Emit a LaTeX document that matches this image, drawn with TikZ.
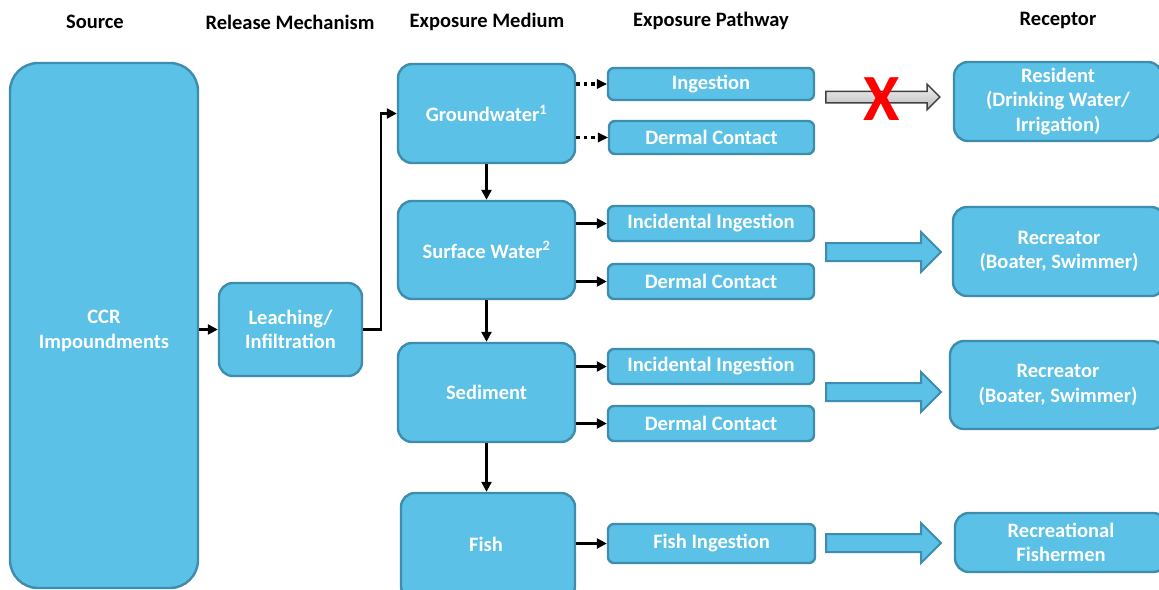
\documentclass[tikz,border=0pt]{standalone}
\usepackage{fontspec}
\setmainfont{Carlito}
\usetikzlibrary{shapes.arrows,arrows.meta}
\definecolor{boxfill}{HTML}{5BC1E6}
\definecolor{boxedge}{HTML}{3F8DAE}
\tikzset{
  box/.style={draw=boxedge, fill=boxfill, line width=2.4pt, rounded corners=14pt,
    text=white, font=\fontsize{20.5}{24.5}\selectfont\bfseries, align=center, inner sep=0pt},
  smallbox/.style={box, rounded corners=6pt},
  bigbox/.style={box, rounded corners=28pt},
  boxlabel/.style={text=white, font=\fontsize{20.5}{24.5}\selectfont\bfseries, align=center, inner sep=0pt},
  header/.style={font=\fontsize{20.5}{24}\selectfont\bfseries, text=black},
  conn/.style={line width=2.4pt, -{Triangle[length=10pt,width=10pt]}},
  dotconn/.style={line width=3.5pt, dash pattern=on 3.5pt off 4pt, -{Triangle[length=10pt,width=10pt,line width=0pt]}},
  bluearrow/.style={single arrow, draw=boxedge, fill=boxfill, line width=2pt,
    minimum height=115pt, inner sep=8pt, single arrow head extend=11pt, single arrow tip angle=90},
  greyarrow/.style={single arrow, draw=black!75, top color=gray!10, bottom color=gray!55, line width=1.5pt,
    minimum height=114pt, inner sep=5pt, single arrow head extend=7pt, single arrow tip angle=90},
}
\begin{document}
\begin{tikzpicture}[x=1pt,y=-1pt]
\useasboundingbox (0,0) rectangle (1159,589);
\clip (0,0) rectangle (1159,589);
% headers
\node[header] (h1) at (95,22) {Source};
\node[header] (h2) at (290,22) {Release Mechanism};
\node[header] (h3) at (487,22) {Exposure Medium};
\node[header] (h4) at (711,21) {Exposure Pathway};
\node[header] (h5) at (1058,20) {Receptor};
% source / release
\node[bigbox, minimum width=188pt, minimum height=525pt] (ccr) at (104,325.5) {};
\node[boxlabel] (ccrlbl) at (104,331) {CCR\\Impoundments};
\node[box, minimum width=143pt, minimum height=93pt] (leach) at (290.5,329.5) {Leaching/\\Infiltration};
% media
\node[box, minimum width=177pt, minimum height=99pt] (gw) at (486.5,113.5) {Groundwater\textsuperscript{1}};
\node[box, minimum width=177pt, minimum height=98pt] (sw) at (486.5,250) {Surface Water\textsuperscript{2}};
\node[box, minimum width=177pt, minimum height=99pt] (sed) at (486.5,392.5) {Sediment};
\node[box, minimum width=174pt, minimum height=107pt] (fish) at (488,546.5) {};
\node[boxlabel] (fishlbl) at (486,544) {Fish};
% pathways
\node[smallbox, minimum width=206pt, minimum height=32pt] (ing) at (711,84) {Ingestion};
\node[smallbox, minimum width=205pt, minimum height=33pt] (gwd) at (711.5,137.5) {Dermal Contact};
\node[smallbox, minimum width=206pt, minimum height=35pt] (swi) at (711,223.5) {Incidental Ingestion};
\node[smallbox, minimum width=206pt, minimum height=35pt] (swd) at (711,281.5) {Dermal Contact};
\node[smallbox, minimum width=206pt, minimum height=35pt] (sdi) at (711,366.5) {Incidental Ingestion};
\node[smallbox, minimum width=206pt, minimum height=35pt] (sdd) at (711,423.5) {Dermal Contact};
\node[smallbox, minimum width=207pt, minimum height=39pt] (fi) at (711.5,543.5) {Fish Ingestion};
% receptors
\node[box, minimum width=208pt, minimum height=79pt] (res) at (1058,101.5) {Resident\\(Drinking Water/\\Irrigation)};
\node[box, minimum width=212pt, minimum height=89pt] (rec1) at (1059,251.5) {Recreator\\(Boater, Swimmer)};
\node[box, minimum width=216pt, minimum height=88pt] (rec2) at (1058,385) {Recreator\\(Boater, Swimmer)};
\node[box, minimum width=212pt, minimum height=59pt] (recf) at (1061,542.5) {Recreational\\Fishermen};
% block arrows
\node[greyarrow] (ga) at (880,97) {};
\node[text=red, font=\fontsize{66}{66}\selectfont\bfseries, inner sep=0pt] (xmark) at (882,99) {X};
\node[bluearrow] (ba1) at (879,252) {};
\node[bluearrow] (ba2) at (879,392) {};
\node[bluearrow] (ba3) at (879,543) {};
% connectors
\draw[conn] (ccr.east |- leach.west) -- (leach.west);
\draw[conn] (leach.east) -- ++(18,0) |- (gw.west);
\draw[conn] (gw.south) -- (sw.north);
\draw[conn] (sw.south) -- (sed.north);
\draw[conn] (sed.south) -- (fish.north -| sed.south);
\draw[dotconn] (gw.east |- ing.west) -- (ing.west);
\draw[dotconn] (gw.east |- gwd.west) -- (gwd.west);
\draw[conn] (sw.east |- swi.west) -- (swi.west);
\draw[conn] (sw.east |- swd.west) -- (swd.west);
\draw[conn] (sed.east |- sdi.west) -- (sdi.west);
\draw[conn] (sed.east |- sdd.west) -- (sdd.west);
\draw[conn] (fish.east |- fi.west) -- (fi.west);
\end{tikzpicture}
\end{document}
